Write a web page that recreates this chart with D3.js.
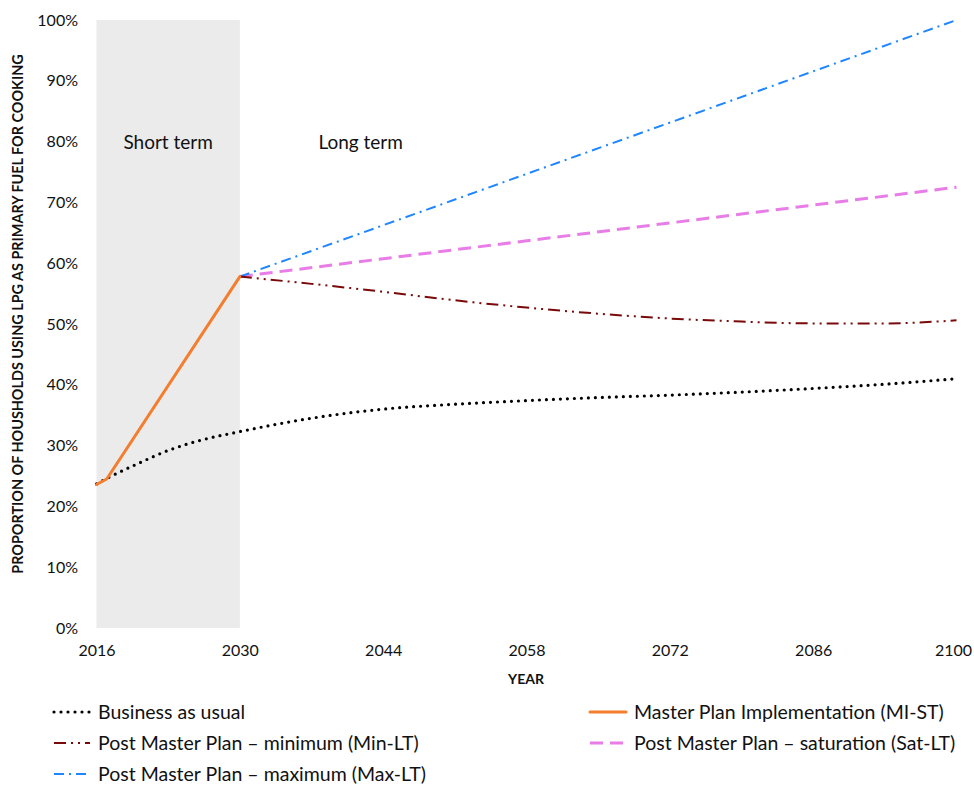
<!DOCTYPE html>
<html><head><meta charset="utf-8">
<script src="https://cdn.jsdelivr.net/npm/d3@7"></script>
<style>body{margin:0;background:#fff;} text{font-family:Lato,"Open Sans",sans-serif;fill:#111;}</style>
</head><body><svg id="c" width="974" height="787"></svg>
<script>
const xTicks=[2016,2030,2044,2058,2072,2086,2100];
const yTicks=[0,10,20,30,40,50,60,70,80,90,100];
const bauYears=[2016,2017,2020,2023,2026,2030,2037,2044,2051,2058,2065,2072,2079,2086,2093,2100];
const bauVals=[23.7,24.6,27.0,29.2,30.8,32.3,34.5,36.0,36.8,37.4,37.9,38.3,38.8,39.4,40.1,41.0];
const miYears=[2016,2017,2030];
const miVals=[23.6,24.5,57.8];
const minYears=[2030,2037,2044,2051,2058,2065,2072,2079,2086,2093,2100];
const minVals=[57.8,56.6,55.3,53.9,52.7,51.7,50.9,50.4,50.1,50.1,50.6];
const satYears=[2030,2100];
const satVals=[57.8,72.5];
const maxYears=[2030,2100];
const maxVals=[57.8,100];
const phaseLabels=["Short term","Long term"];
const phaseCenters=[2023,2041.8];

const svg=d3.select("#c");
const x=d3.scaleLinear().domain([2016,2100]).range([96.5,956.5]);
const y=d3.scaleLinear().domain([0,100]).range([628,20]);

svg.append("rect").attr("x",x(2016)).attr("y",y(100)).attr("width",x(2030)-x(2016)).attr("height",y(0)-y(100)).attr("fill","#ebebeb");

const xa=svg.append("g").attr("transform","translate(0,628)").call(d3.axisBottom(x).tickValues(xTicks).tickFormat(d3.format("d")).tickSize(0).tickPadding(17));
xa.select(".domain").remove();
xa.selectAll("text").attr("font-size",16).style("font-family","Lato,sans-serif").attr("fill","#111");
xa.selectAll("text").filter(d=>d===2100).attr("dx",-3.5);
const ya=svg.append("g").attr("transform","translate(78,0)").call(d3.axisLeft(y).tickValues(yTicks).tickFormat(d=>d+"%").tickSize(0).tickPadding(0));
ya.select(".domain").remove();
ya.selectAll("text").attr("font-size",16).style("font-family","Lato,sans-serif").attr("fill","#111");

svg.append("text").attr("transform","translate(23,314) rotate(-90)").attr("text-anchor","middle").attr("font-size",14.4).attr("font-weight","bold").text("PROPORTION OF HOUSHOLDS USING LPG AS PRIMARY FUEL FOR COOKING");
svg.append("text").attr("x",526).attr("y",684).attr("text-anchor","middle").attr("font-size",14).attr("font-weight","bold").text("YEAR");

phaseLabels.forEach((p,i)=>svg.append("text").attr("x",x(phaseCenters[i])).attr("y",y(80)+7).attr("text-anchor","middle").attr("font-size",19).text(p));

const curved=d3.line().x(d=>x(d[0])).y(d=>y(d[1])).curve(d3.curveMonotoneX);
const straight=d3.line().x(d=>x(d[0])).y(d=>y(d[1]));
const series=[
 {name:"Business as usual",ys:bauYears,vs:bauVals,color:"#000",w:3.2,dash:"0,7",cap:"round",gen:curved},
 {name:"Post Master Plan – saturation (Sat-LT)",ys:satYears,vs:satVals,color:"#e87de8",w:3,dash:"13,7",cap:"butt",gen:straight},
 {name:"Post Master Plan – maximum (Max-LT)",ys:maxYears,vs:maxVals,color:"#1f86ff",w:2,dash:"10,5,2,5",cap:"butt",gen:straight},
 {name:"Post Master Plan – minimum (Min-LT)",ys:minYears,vs:minVals,color:"#7a0a0a",w:2,dash:"12,5,2,5,2,5",cap:"butt",gen:curved},
 {name:"Master Plan Implementation (MI-ST)",ys:miYears,vs:miVals,color:"#f47d2e",w:3,dash:null,cap:"round",gen:straight}
];
series.forEach(s=>{
  svg.append("path").datum(s.ys.map((yr,i)=>[yr,s.vs[i]])).attr("d",s.gen).attr("fill","none")
   .attr("stroke",s.color).attr("stroke-width",s.w).attr("stroke-dasharray",s.dash).attr("stroke-linecap",s.cap).attr("stroke-linejoin","round");
});

const legend=[
 {s:series[0],x:52,y:712},{s:series[4],x:588,y:712},
 {s:series[3],x:52,y:743},{s:series[1],x:588,y:743},
 {s:series[2],x:52,y:774}
];
legend.forEach(l=>{
  const s=l.s;
  svg.append("line").attr("x1",l.x+2).attr("x2",l.x+38).attr("y1",l.y).attr("y2",l.y)
   .attr("stroke",s.color).attr("stroke-width",s.w).attr("stroke-dasharray",s.dash).attr("stroke-linecap",s.cap);
  svg.append("text").attr("x",l.x+46).attr("y",l.y+6.5).attr("font-size",19.5).text(s.name);
});
</script></body></html>
